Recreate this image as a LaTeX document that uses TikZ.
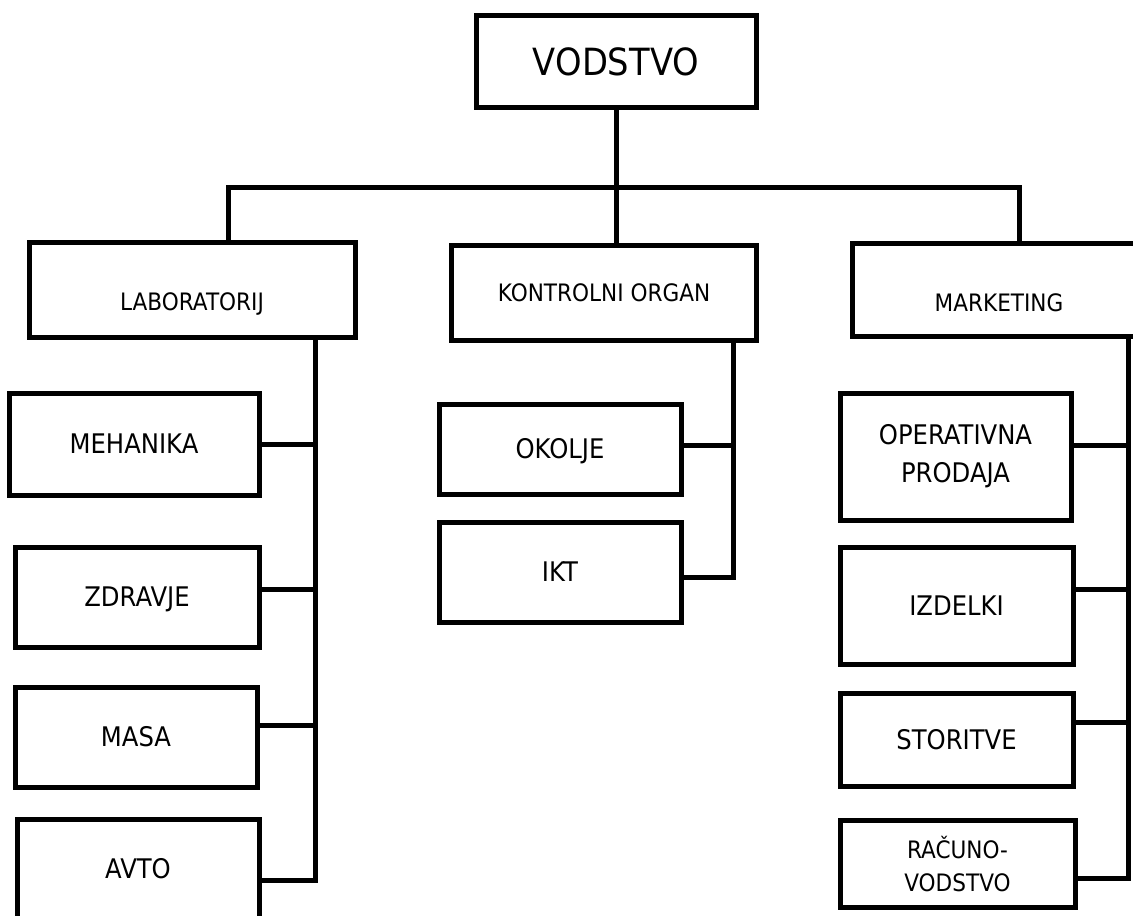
\documentclass[tikz,border=0pt]{standalone}
\usepackage{fontspec}
\setmainfont{DejaVu Sans}[FakeStretch=0.9]
\usepackage{tikz}
\usetikzlibrary{positioning, calc}
\tikzstyle{unit} = [draw, rectangle, line width=5pt, inner sep=0pt, text depth=0pt]
\tikzstyle{head} = [unit, font=\fontsize{37.5}{45}\selectfont, text height=27.3pt]
\tikzstyle{dept} = [unit, font=\fontsize{24}{30}\selectfont, text height=17.5pt]
\tikzstyle{sub} = [unit, font=\fontsize{27}{38}\selectfont, text height=19.7pt]
\tikzstyle{twoline} = [text height=, text depth=, align=center]
\tikzstyle{link} = [line width=5pt]

\begin{document}
\begin{tikzpicture}[x=1pt, y=-1pt]
\clip (0,0) rectangle (1133,916);

% Top box
\node[head, minimum width=280pt, minimum height=92pt] (vodstvo) at (616,61.5) {VODSTVO};

% Departments
\node[dept, minimum width=326pt, minimum height=95pt, text height=42.5pt] (lab) at (192,289.5) {LABORATORIJ};
\node[dept, minimum width=305pt, minimum height=95pt] (kontrola) at (604,292.5) {KONTROLNI ORGAN};
\node[dept, minimum width=294pt, minimum height=92.5pt, text height=43.5pt] (marketing) at (999,290) {MARKETING};

% Bus
\coordinate (busL) at (228,187);
\coordinate (busR) at (1019.5,187);
\draw[link] (vodstvo.south) -- (vodstvo.south |- kontrola.north);
\draw[link] (lab.north -| busL) -- (busL) -- (busR) -- (marketing.north -| busR);

% Laboratorij
\node[sub, minimum width=250pt, minimum height=102pt] (mehanika) at (134,444) {MEHANIKA};
\node[sub, minimum width=244pt, minimum height=100pt] (zdravje) at (137,597) {ZDRAVJE};
\node[sub, minimum width=242pt, minimum height=100pt] (masa) at (136,737) {MASA};
\node[sub, minimum width=242pt, minimum height=100pt] (avto) at (138,869) {AVTO};

\coordinate (lspine) at (315,0);
\draw[link] (lab.south -| lspine) -- ([yshift=-11pt]avto.east -| lspine) -- ([yshift=-11pt]avto.east);
\draw[link] (mehanika.east) -- (mehanika.east -| lspine);
\draw[link] ([yshift=8pt]zdravje.east) -- ([yshift=8pt]zdravje.east -| lspine);
\draw[link] ([yshift=12pt]masa.east) -- ([yshift=12pt]masa.east -| lspine);

% Kontrolni organ
\node[sub, minimum width=242pt, minimum height=90pt] (okolje) at (560,449) {OKOLJE};
\node[sub, minimum width=242pt, minimum height=100pt] (ikt) at (560,572) {IKT};

\coordinate (cspine) at (733,0);
\draw[link] (kontrola.south -| cspine) -- ([yshift=-5pt]ikt.east -| cspine) -- ([yshift=-5pt]ikt.east);
\draw[link] ([yshift=4pt]okolje.east) -- ([yshift=4pt]okolje.east -| cspine);

% Marketing
\node[sub, twoline, minimum width=231pt, minimum height=127pt] (operativna) at (955.5,456.5) {OPERATIVNA\\PRODAJA};
\node[sub, minimum width=233pt, minimum height=117pt] (izdelki) at (956.5,605.5) {IZDELKI};
\node[sub, minimum width=233pt, minimum height=93pt] (storitve) at (956.5,740) {STORITVE};
\node[dept, twoline, minimum width=235pt, minimum height=87.5pt, font=\fontsize{24}{33}\selectfont] (racun) at (957.5,864) {RAČUNO-\\VODSTVO};

\coordinate (rspine) at (1128,0);
\draw[link] (marketing.south -| rspine) -- ([yshift=-14pt]racun.east -| rspine) -- ([yshift=-14pt]racun.east);
\draw[link] ([yshift=11.5pt]operativna.east) -- ([yshift=11.5pt]operativna.east -| rspine);
\draw[link] ([yshift=16.5pt]izdelki.east) -- ([yshift=16.5pt]izdelki.east -| rspine);
\draw[link] ([yshift=18pt]storitve.east) -- ([yshift=18pt]storitve.east -| rspine);
\end{tikzpicture}
\end{document}
